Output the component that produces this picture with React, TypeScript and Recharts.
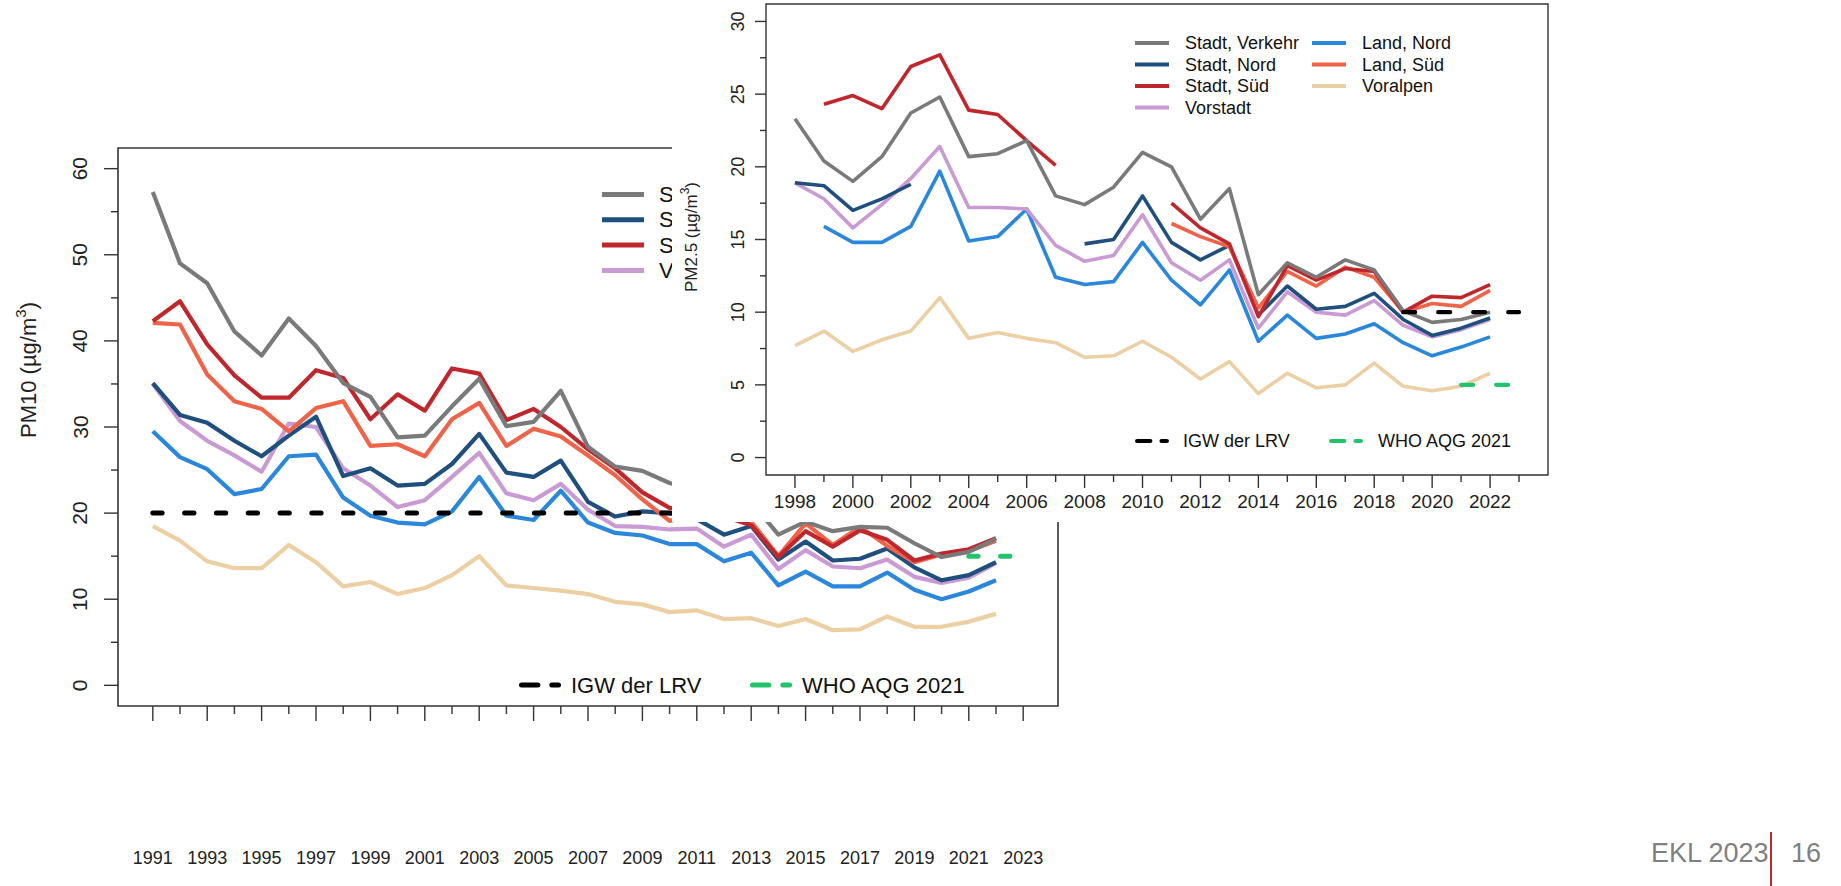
import React from "react";
import { LineChart, Line, XAxis, YAxis, ReferenceArea } from "recharts";

// PM10, 1991-2022
const years10 = [1991, 1992, 1993, 1994, 1995, 1996, 1997, 1998, 1999, 2000, 2001, 2002, 2003, 2004, 2005, 2006, 2007, 2008, 2009, 2010, 2011, 2012, 2013, 2014, 2015, 2016, 2017, 2018, 2019, 2020, 2021, 2022];
const stadtVerkehr10 = [57.3, 49.0, 46.7, 41.1, 38.3, 42.6, 39.4, 35.1, 33.5, 28.8, 29.0, 32.4, 35.6, 30.1, 30.6, 34.2, 27.7, 25.4, 24.9, 23.5, 22.6, 21.8, 21.3, 17.5, 19.0, 17.9, 18.4, 18.3, 16.5, 14.9, 15.5, 17.0];
const stadtNord10 = [35.1, 31.4, 30.5, 28.4, 26.6, 29.0, 31.2, 24.3, 25.2, 23.2, 23.4, 25.7, 29.2, 24.7, 24.2, 26.1, 21.3, 19.6, 20.2, 20.0, 19.3, 17.5, 18.5, 14.6, 16.7, 14.5, 14.7, 15.9, 13.7, 12.2, 12.8, 14.3];
const stadtSued10 = [42.3, 44.6, 39.6, 36.0, 33.4, 33.4, 36.6, 35.7, 30.9, 33.8, 31.9, 36.8, 36.2, 30.8, 32.1, 30.0, 27.4, 25.2, 22.4, 20.6, 20.3, 19.6, 18.6, 14.9, 17.9, 16.1, 18.0, 16.9, 14.5, 15.3, 15.8, 17.1];
const vorstadt10 = [35.0, 30.7, 28.4, 26.7, 24.8, 30.4, 30.0, 25.2, 23.2, 20.7, 21.5, 24.2, 27.0, 22.3, 21.5, 23.4, 20.4, 18.5, 18.4, 18.1, 18.2, 16.1, 17.5, 13.5, 15.7, 13.8, 13.6, 14.6, 12.6, 11.9, 12.5, 14.2];
const landNord10 = [29.5, 26.5, 25.1, 22.2, 22.8, 26.6, 26.8, 21.8, 19.7, 18.9, 18.7, 20.2, 24.2, 19.7, 19.2, 22.6, 18.9, 17.7, 17.4, 16.4, 16.4, 14.4, 15.4, 11.6, 13.2, 11.5, 11.5, 13.1, 11.1, 10.0, 10.9, 12.2];
const landSued10 = [42.1, 41.9, 36.1, 33.0, 32.1, 29.5, 32.2, 33.0, 27.8, 28.0, 26.6, 30.9, 32.8, 27.8, 29.8, 28.9, 26.7, 24.4, 21.6, 19.1, 19.8, 19.4, 19.0, 15.0, 18.8, 16.3, 18.4, 16.2, 14.3, 15.2, 15.6, 16.8];
const voralpen10 = [18.5, 16.8, 14.4, 13.6, 13.6, 16.3, 14.3, 11.5, 12.0, 10.6, 11.3, 12.8, 15.0, 11.6, 11.3, 11.0, 10.6, 9.7, 9.4, 8.5, 8.7, 7.7, 7.8, 6.9, 7.7, 6.4, 6.5, 8.0, 6.8, 6.8, 7.4, 8.3];
const igw10 = [{ year: 1991, v: 20 }, { year: 2023, v: 20 }];
const who10 = [{ year: 2021, v: 15 }, { year: 2023, v: 15 }];
const xTicks10 = [1991, 1992, 1993, 1994, 1995, 1996, 1997, 1998, 1999, 2000, 2001, 2002, 2003, 2004, 2005, 2006, 2007, 2008, 2009, 2010, 2011, 2012, 2013, 2014, 2015, 2016, 2017, 2018, 2019, 2020, 2021, 2022, 2023];
const yTicks10 = [0, 5, 10, 15, 20, 25, 30, 35, 40, 45, 50, 55, 60];

// PM2.5, 1998-2022
const years25 = [1998, 1999, 2000, 2001, 2002, 2003, 2004, 2005, 2006, 2007, 2008, 2009, 2010, 2011, 2012, 2013, 2014, 2015, 2016, 2017, 2018, 2019, 2020, 2021, 2022];
const stadtVerkehr25 = [23.3, 20.4, 19.0, 20.7, 23.7, 24.8, 20.7, 20.9, 21.8, 18.0, 17.4, 18.6, 21.0, 20.0, 16.4, 18.5, 11.2, 13.4, 12.4, 13.6, 12.9, 10.1, 9.3, 9.5, 10.0];
const stadtNord25 = [18.9, 18.7, 17.0, 17.8, 18.8, null, null, null, null, null, 14.7, 15.0, 18.0, 14.8, 13.6, 14.6, 9.8, 11.8, 10.2, 10.4, 11.3, 9.5, 8.4, 8.9, 9.6];
const stadtSued25 = [null, 24.3, 24.9, 24.0, 26.9, 27.7, 23.9, 23.6, 21.8, 20.1, null, null, null, 17.5, 15.8, 14.7, 9.7, 13.2, 12.2, 13.0, 12.8, 10.0, 11.1, 11.0, 11.9];
const vorstadt25 = [18.9, 17.8, 15.8, 17.4, 19.2, 21.4, 17.2, 17.2, 17.1, 14.6, 13.5, 13.9, 16.7, 13.4, 12.2, 13.6, 8.9, 11.4, 10.0, 9.8, 10.8, 9.1, 8.3, 8.8, 9.5];
const landNord25 = [null, 15.9, 14.8, 14.8, 15.9, 19.7, 14.9, 15.2, 17.1, 12.4, 11.9, 12.1, 14.8, 12.2, 10.5, 12.9, 8.0, 9.8, 8.2, 8.5, 9.2, 7.9, 7.0, 7.6, 8.3];
const landSued25 = [null, null, null, null, null, null, null, null, null, null, null, null, null, 16.1, 15.2, 14.5, 10.3, 12.8, 11.8, 13.1, 12.4, 10.0, 10.6, 10.4, 11.5];
const voralpen25 = [7.7, 8.7, 7.3, 8.1, 8.7, 11.0, 8.2, 8.6, 8.2, 7.9, 6.9, 7.0, 8.0, 6.9, 5.4, 6.6, 4.4, 5.8, 4.8, 5.0, 6.5, 4.9, 4.6, 4.9, 5.8];
const igw25 = [{ year: 2019, v: 10 }, { year: 2023, v: 10 }];
const who25 = [{ year: 2021, v: 5 }, { year: 2023, v: 5 }];
const xTicks25 = [1998, 1999, 2000, 2001, 2002, 2003, 2004, 2005, 2006, 2007, 2008, 2009, 2010, 2011, 2012, 2013, 2014, 2015, 2016, 2017, 2018, 2019, 2020, 2021, 2022, 2023];
const yTicks25 = [0, 2.5, 5, 7.5, 10, 12.5, 15, 17.5, 20, 22.5, 25, 27.5, 30];

const seriesKeys = ["sv", "sn", "ss", "vs", "ln", "ls", "va"];
const seriesNames = ["Stadt, Verkehr", "Stadt, Nord", "Stadt, Süd", "Vorstadt", "Land, Nord", "Land, Süd", "Voralpen"];
const seriesColors = ["#7a7a7a", "#1e4f7e", "#c0272d", "#c99ad3", "#2b87db", "#ef6349", "#eccfa3"];
const drawOrder = ["va", "ln", "vs", "sn", "ls", "ss", "sv"];

const data10 = years10.map((year, i) => ({
  year,
  sv: stadtVerkehr10[i], sn: stadtNord10[i], ss: stadtSued10[i], vs: vorstadt10[i],
  ln: landNord10[i], ls: landSued10[i], va: voralpen10[i],
}));
const data25 = years25.map((year, i) => ({
  year,
  sv: stadtVerkehr25[i], sn: stadtNord25[i], ss: stadtSued25[i], vs: vorstadt25[i],
  ln: landNord25[i], ls: landSued25[i], va: voralpen25[i],
}));

const FONT = "'Liberation Sans', Arial, sans-serif";
const INK = "#333";
const GREEN = "#22c46b";
const colorOf = (k: string) => seriesColors[seriesKeys.indexOf(k)];
const nameOf = (k: string) => seriesNames[seriesKeys.indexOf(k)];

const xDom10: [number, number] = [1989.72, 2024.28];
const yDom10: [number, number] = [-2.4, 62.4];
const xDom25: [number, number] = [1997, 2024];
const yDom25: [number, number] = [-1.2, 31.2];

function makeXTick(isMajor: (v: number) => boolean, long: number, short: number, labelDy: number, fs: number) {
  return (p: any) => {
    const v = p.payload.value;
    const major = isMajor(v);
    return (
      <g>
        <line x1={p.x} y1={p.y} x2={p.x} y2={p.y + (major ? long : short)} stroke={INK} strokeWidth={1.4} />
        {major && (
          <text x={p.x} y={p.y + labelDy} textAnchor="middle" dominantBaseline="central" fontSize={fs} fontFamily={FONT} fill="#222">
            {v}
          </text>
        )}
      </g>
    );
  };
}

function makeYTick(isMajor: (v: number) => boolean, long: number, short: number, labelDx: number, fs: number) {
  return (p: any) => {
    const v = p.payload.value;
    const major = isMajor(v);
    const lx = p.x - labelDx;
    return (
      <g>
        <line x1={p.x} y1={p.y} x2={p.x - (major ? long : short)} y2={p.y} stroke={INK} strokeWidth={1.4} />
        {major && (
          <text x={lx} y={p.y} transform={`rotate(-90, ${lx}, ${p.y})`} textAnchor="middle" dominantBaseline="central" fontSize={fs} fontFamily={FONT} fill="#222">
            {v}
          </text>
        )}
      </g>
    );
  };
}

function Pm10Chart() {
  return (
    <LineChart width={1100} height={886} data={data10} margin={{ top: 148, right: 42, bottom: 0, left: 0 }}>
      <XAxis dataKey="year" type="number" domain={xDom10} ticks={xTicks10} interval={0} allowDataOverflow
        axisLine={false} tickLine={false} tickSize={0} tickMargin={0} height={180}
        tick={makeXTick((v) => v % 2 === 1, 15, 8, 152, 18)} />
      <YAxis type="number" domain={yDom10} ticks={yTicks10} interval={0} allowDataOverflow
        axisLine={false} tickLine={false} tickSize={0} tickMargin={0} width={118}
        tick={makeYTick((v) => v % 10 === 0, 14, 7, 38, 21)} />
      <ReferenceArea x1={xDom10[0]} x2={xDom10[1]} y1={yDom10[0]} y2={yDom10[1]} fill="none" fillOpacity={0} stroke={INK} strokeWidth={1.6} ifOverflow="visible" />
      {drawOrder.map((k) => (
        <Line key={k} dataKey={k} stroke={colorOf(k)} strokeWidth={4.2} dot={false} activeDot={false}
          strokeLinejoin="round" connectNulls={false} isAnimationActive={false} />
      ))}
      <Line data={igw10} dataKey="v" stroke="#000" strokeWidth={5} strokeDasharray="9.3 22.5" strokeLinecap="round" dot={false} activeDot={false} isAnimationActive={false} />
      <Line data={who10} dataKey="v" stroke={GREEN} strokeWidth={5} strokeDasharray="9.3 22.5" strokeLinecap="round" dot={false} activeDot={false} isAnimationActive={false} />
    </LineChart>
  );
}

function Pm25Chart() {
  return (
    <LineChart width={884} height={522} data={data25} margin={{ top: 4, right: 8, bottom: 0, left: 0 }}>
      <XAxis dataKey="year" type="number" domain={xDom25} ticks={xTicks25} interval={0} allowDataOverflow
        axisLine={false} tickLine={false} tickSize={0} tickMargin={0} height={47}
        tick={makeXTick((v) => v % 2 === 0, 13, 7, 26, 19)} />
      <YAxis type="number" domain={yDom25} ticks={yTicks25} interval={0} allowDataOverflow
        axisLine={false} tickLine={false} tickSize={0} tickMargin={0} width={94}
        tick={makeYTick((v) => v % 5 === 0, 11, 6, 28, 18)} />
      <ReferenceArea x1={xDom25[0]} x2={xDom25[1]} y1={yDom25[0]} y2={yDom25[1]} fill="none" fillOpacity={0} stroke={INK} strokeWidth={1.4} ifOverflow="visible" />
      {drawOrder.map((k) => (
        <Line key={k} dataKey={k} stroke={colorOf(k)} strokeWidth={3.6} dot={false} activeDot={false}
          strokeLinejoin="round" connectNulls={false} isAnimationActive={false} />
      ))}
      <Line data={igw25} dataKey="v" stroke="#000" strokeWidth={4.2} strokeDasharray="12 23" strokeLinecap="round" dot={false} activeDot={false} isAnimationActive={false} />
      <Line data={who25} dataKey="v" stroke={GREEN} strokeWidth={4.2} strokeDasharray="12 23" strokeLinecap="round" dot={false} activeDot={false} isAnimationActive={false} />
    </LineChart>
  );
}

function DashKey({ x, y, color, w, sw }: { x: number; y: number; color: string; w: number; sw: number }) {
  return (
    <g>
      <line x1={x + sw / 2} y1={y} x2={x + w * 0.45} y2={y} stroke={color} strokeWidth={sw} strokeLinecap="round" />
      <line x1={x + w * 0.78} y1={y} x2={x + w - sw / 2} y2={y} stroke={color} strokeWidth={sw} strokeLinecap="round" />
    </g>
  );
}

// the PM2.5 panel is pasted over the PM10 panel at this offset
const PX = 672;

export default function App() {
  const leftCol = ["sv", "sn", "ss", "vs"];
  const rightCol = ["ln", "ls", "va"];
  return (
    <div style={{ position: "fixed", left: 0, top: 0, width: 1841, height: 886, background: "#fff", overflow: "hidden", fontFamily: FONT }}>
      {/* PM10 panel */}
      <div style={{ position: "absolute", left: 0, top: 0 }}>
        <Pm10Chart />
      </div>
      <svg width={1100} height={886} style={{ position: "absolute", left: 0, top: 0 }}>
        <text x={28} y={370} transform="rotate(-90, 28, 370)" textAnchor="middle" dominantBaseline="central" fontSize={22} fontFamily={FONT} fill="#222">
          PM10 (µg/m<tspan dy={-8} fontSize={15}>3</tspan><tspan dy={8}>)</tspan>
        </text>
        {leftCol.map((k, i) => (
          <g key={k}>
            <line x1={602} x2={644} y1={194.5 + i * 25.3} y2={194.5 + i * 25.3} stroke={colorOf(k)} strokeWidth={5} />
            <text x={659} y={194.5 + i * 25.3} dominantBaseline="central" fontSize={22} fontFamily={FONT} fill="#111">
              {nameOf(k)}
            </text>
          </g>
        ))}
        <DashKey x={519} y={685} color="#000" w={42} sw={5} />
        <text x={571} y={685} dominantBaseline="central" fontSize={22} fontFamily={FONT} fill="#111">IGW der LRV</text>
        <DashKey x={750} y={685} color={GREEN} w={42} sw={5} />
        <text x={802} y={685} dominantBaseline="central" fontSize={22} fontFamily={FONT} fill="#111">WHO AQG 2021</text>
      </svg>

      {/* PM2.5 panel */}
      <div style={{ position: "absolute", left: PX, top: 0, width: 884, height: 522, background: "#fff" }}>
        <Pm25Chart />
        <svg width={884} height={522} style={{ position: "absolute", left: 0, top: 0 }}>
          <text x={691 - PX} y={237} transform={`rotate(-90, ${691 - PX}, 237)`} textAnchor="middle" dominantBaseline="central" fontSize={17} fontFamily={FONT} fill="#222">
            PM2.5 (µg/m<tspan dy={-6} fontSize={12}>3</tspan><tspan dy={6}>)</tspan>
          </text>
          {leftCol.map((k, i) => (
            <g key={k}>
              <line x1={1135 - PX} x2={1169 - PX} y1={43 + i * 21.5} y2={43 + i * 21.5} stroke={colorOf(k)} strokeWidth={4} />
              <text x={1185 - PX} y={43 + i * 21.5} dominantBaseline="central" fontSize={18} fontFamily={FONT} fill="#111">
                {nameOf(k)}
              </text>
            </g>
          ))}
          {rightCol.map((k, i) => (
            <g key={k}>
              <line x1={1312 - PX} x2={1346 - PX} y1={43 + i * 21.5} y2={43 + i * 21.5} stroke={colorOf(k)} strokeWidth={4} />
              <text x={1362 - PX} y={43 + i * 21.5} dominantBaseline="central" fontSize={18} fontFamily={FONT} fill="#111">
                {nameOf(k)}
              </text>
            </g>
          ))}
          <DashKey x={1135 - PX} y={441} color="#000" w={34} sw={4.2} />
          <text x={1183 - PX} y={441} dominantBaseline="central" fontSize={18} fontFamily={FONT} fill="#111">IGW der LRV</text>
          <DashKey x={1329 - PX} y={441} color={GREEN} w={34} sw={4.2} />
          <text x={1378 - PX} y={441} dominantBaseline="central" fontSize={18} fontFamily={FONT} fill="#111">WHO AQG 2021</text>
        </svg>
      </div>

      {/* footer */}
      <div style={{ position: "absolute", left: 1651, top: 838, fontSize: 27, color: "#7f7f7f", fontFamily: FONT }}>EKL 2023</div>
      <div style={{ position: "absolute", left: 1770, top: 832, width: 1.5, height: 54, background: "#c0272d" }} />
      <div style={{ position: "absolute", left: 1791, top: 838, fontSize: 27, color: "#7f7f7f", fontFamily: FONT }}>16</div>
    </div>
  );
}
